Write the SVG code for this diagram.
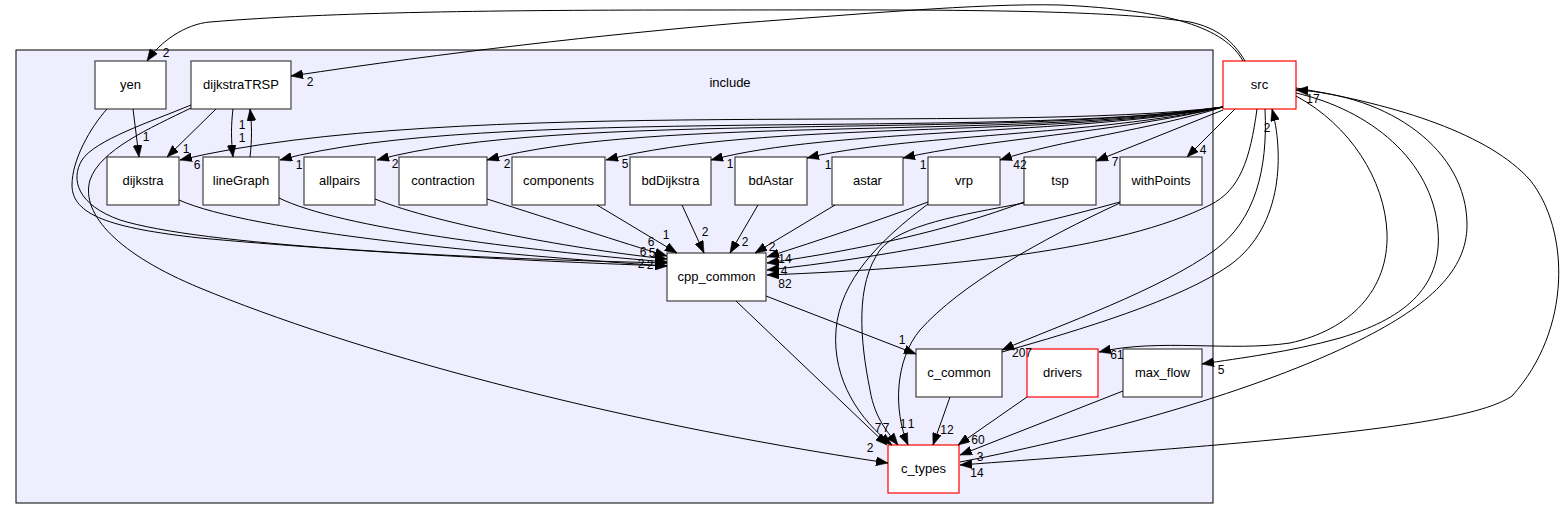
<svg xmlns="http://www.w3.org/2000/svg" width="1568" height="520" viewBox="0 0 1568 520">
<style>
.n rect{fill:#fff;stroke:#404040;stroke-width:1.2}
.n.r rect{stroke:red}
.n text{font-family:"Liberation Sans",Arial,sans-serif;font-size:13px;text-anchor:middle;fill:#000}
.e path{fill:none;stroke:#000;stroke-width:1;marker-end:url(#ah)}
.l text{font-family:"Liberation Sans",Arial,sans-serif;font-size:12px;text-anchor:middle;fill:#000}
.cl{fill:#eeeeff;stroke:#000;stroke-width:1}
.clt{font-family:"Liberation Sans",Arial,sans-serif;font-size:13px;text-anchor:middle}
</style>
<defs>
<marker id="ah" markerUnits="userSpaceOnUse" markerWidth="12" markerHeight="9" viewBox="0 0 12 9" refX="12" refY="4.5" orient="auto">
<path d="M0,0 L12,4.5 L0,9 z" fill="#000" stroke="#000" stroke-width="0.5"/>
</marker>
</defs>
<rect width="1568" height="520" fill="#fff"/>
<g id="cluster-include">
<rect class="cl" x="16" y="50" width="1197" height="453"/>
<text class="clt" x="730" y="87">include</text>
</g>
<g id="node-yen" class="n"><rect x="95" y="61" width="71" height="48"/><text x="130.5" y="89">yen</text></g>
<g id="node-dijkstraTRSP" class="n"><rect x="191" y="61" width="100" height="48"/><text x="241" y="89">dijkstraTRSP</text></g>
<g id="node-dijkstra" class="n"><rect x="107" y="157" width="72" height="48"/><text x="143" y="185">dijkstra</text></g>
<g id="node-lineGraph" class="n"><rect x="203" y="157" width="76" height="48"/><text x="241" y="185">lineGraph</text></g>
<g id="node-allpairs" class="n"><rect x="304" y="157" width="71" height="48"/><text x="339.5" y="185">allpairs</text></g>
<g id="node-contraction" class="n"><rect x="399" y="157" width="88" height="48"/><text x="443" y="185">contraction</text></g>
<g id="node-components" class="n"><rect x="512" y="157" width="93" height="48"/><text x="558.5" y="185">components</text></g>
<g id="node-bdDijkstra" class="n"><rect x="630" y="157" width="81" height="48"/><text x="670.5" y="185">bdDijkstra</text></g>
<g id="node-bdAstar" class="n"><rect x="735" y="157" width="72" height="48"/><text x="771" y="185">bdAstar</text></g>
<g id="node-astar" class="n"><rect x="832" y="157" width="71" height="48"/><text x="867.5" y="185">astar</text></g>
<g id="node-vrp" class="n"><rect x="928" y="157" width="72" height="48"/><text x="964" y="185">vrp</text></g>
<g id="node-tsp" class="n"><rect x="1024" y="157" width="72" height="48"/><text x="1060" y="185">tsp</text></g>
<g id="node-withPoints" class="n"><rect x="1120" y="157" width="82" height="48"/><text x="1161" y="185">withPoints</text></g>
<g id="node-cpp_common" class="n"><rect x="667" y="253" width="99" height="48"/><text x="716.5" y="281">cpp_common</text></g>
<g id="node-c_common" class="n"><rect x="916" y="349" width="86" height="48"/><text x="959" y="377">c_common</text></g>
<g id="node-drivers" class="n r"><rect x="1027" y="349" width="71" height="48"/><text x="1062.5" y="377">drivers</text></g>
<g id="node-max_flow" class="n"><rect x="1123" y="349" width="79" height="48"/><text x="1162.5" y="377">max_flow</text></g>
<g id="node-c_types" class="n r"><rect x="888" y="445" width="71" height="48"/><text x="923.5" y="473">c_types</text></g>
<g id="node-src" class="n r"><rect x="1223" y="61" width="73" height="48"/><text x="1259.5" y="89">src</text></g>
<g id="edges" class="e">
<path d="M1245,61 C1234,42 1218,28 1190,22 C1100,8 900,10 700,10 C500,10 330,12 210,22 C185,24 160,42 147,61"/>
<path d="M1243,61 C1225,28 1170,10 1060,5 C980,3 850,15 740,23 C600,35 450,52 291,76"/>
<path d="M133,109 L139,157"/>
<path d="M216,109 L167,157"/>
<path d="M233,109 C231,125 231,140 233,157"/>
<path d="M250,157 C252,140 252,125 250,109"/>
<path d="M107,109 C90,128 72,160 72,185 C72,215 110,228 200,238 C350,252 550,262 667,266"/>
<path d="M191,105 C150,122 95,140 82,160 C70,180 78,205 120,220 C200,245 450,258 667,263"/>
<path d="M191,108 C150,128 100,150 90,180 C80,215 120,255 200,288 C350,350 600,420 888,463"/>
<path d="M179,200 C250,232 500,255 667,266"/>
<path d="M279,198 C340,228 520,250 667,262"/>
<path d="M375,199 C440,225 580,250 667,259"/>
<path d="M487,199 C560,222 620,242 667,256"/>
<path d="M597,205 L677,253"/>
<path d="M682,205 L704,253"/>
<path d="M758,205 L730,253"/>
<path d="M835,205 L755,253"/>
<path d="M928,202 C880,220 820,240 767,257"/>
<path d="M1024,202 C950,230 860,250 767,263"/>
<path d="M1120,202 C1000,235 880,258 767,270"/>
<path d="M1257,109 C1250,160 1240,190 1210,205 C1120,250 950,268 767,275"/>
<path d="M766,296 L916,354"/>
<path d="M736,301 L887,445"/>
<path d="M928,204 C880,240 840,280 836,330 C832,380 860,420 892,445"/>
<path d="M1024,203 C960,215 900,225 880,250 C855,285 860,340 870,390 C875,420 890,435 898,445"/>
<path d="M1120,203 C1040,240 960,285 920,330 C895,360 893,410 908,445"/>
<path d="M950,397 L933,445"/>
<path d="M1027,397 L958,445"/>
<path d="M1123,391 L960,455"/>
<path d="M1265,109 C1268,170 1255,220 1215,250 C1160,290 1060,325 1002,350"/>
<path d="M1002,352 C1080,330 1180,300 1230,265 C1285,225 1283,150 1272,109"/>
<path d="M1296,96 C1350,125 1385,180 1387,233 C1389,290 1350,330 1290,343 C1230,352 1160,338 1099,352"/>
<path d="M1296,93 C1370,110 1432,160 1438,230 C1443,290 1400,320 1340,338 C1290,352 1240,358 1202,364"/>
<path d="M960,462 C1100,435 1260,390 1360,340 C1430,305 1467,270 1467,225 C1467,150 1390,95 1296,90"/>
<path d="M1296,88 C1400,105 1490,135 1530,180 C1570,230 1572,330 1512,396 C1470,425 1300,440 960,465"/>
<path d="M1235,109 L1187,157"/>
<path d="M1223,110 L1096,161"/>
<path d="M1223,107 C1150,130 1060,140 1000,160"/>
<path d="M1223,107 C1120,132 980,140 903,158"/>
<path d="M1223,107 C1100,135 900,135 807,158"/>
<path d="M1223,107 C1080,135 830,128 711,160"/>
<path d="M1223,107 C1050,138 760,120 606,160"/>
<path d="M1223,107 C1020,140 650,115 487,160"/>
<path d="M1223,107 C1000,140 560,110 377,160"/>
<path d="M1223,107 C1000,140 480,105 280,160"/>
<path d="M1223,107 C1000,135 450,95 180,160"/>
</g>
<g id="edge-labels" class="l">
<text x="166" y="57">2</text>
<text x="310" y="86">2</text>
<text x="146" y="141">1</text>
<text x="186" y="153">1</text>
<text x="242" y="129">1</text>
<text x="242" y="142">1</text>
<text x="197" y="169">6</text>
<text x="299" y="169">1</text>
<text x="395" y="168">2</text>
<text x="507" y="168">2</text>
<text x="625" y="168">5</text>
<text x="730" y="168">1</text>
<text x="828" y="169">1</text>
<text x="923" y="169">1</text>
<text x="1020" y="169">42</text>
<text x="1115" y="166">7</text>
<text x="1203" y="154">4</text>
<text x="666" y="239">1</text>
<text x="651" y="246">6</text>
<text x="643" y="256">6</text>
<text x="652" y="257">5</text>
<text x="641" y="268">2</text>
<text x="650" y="269">2</text>
<text x="705" y="236">2</text>
<text x="745" y="246">2</text>
<text x="772" y="251">2</text>
<text x="785" y="263">14</text>
<text x="784" y="275">4</text>
<text x="785" y="288">82</text>
<text x="902" y="344">1</text>
<text x="878" y="432">7</text>
<text x="886" y="432">7</text>
<text x="903" y="428">1</text>
<text x="911" y="428">1</text>
<text x="870" y="452">2</text>
<text x="947" y="434">12</text>
<text x="978" y="444">60</text>
<text x="980" y="461">3</text>
<text x="977" y="477">14</text>
<text x="1022" y="357">207</text>
<text x="1117" y="359">61</text>
<text x="1221" y="374">5</text>
<text x="1267" y="132">2</text>
<text x="1313" y="103">17</text>
</g>
</svg>
